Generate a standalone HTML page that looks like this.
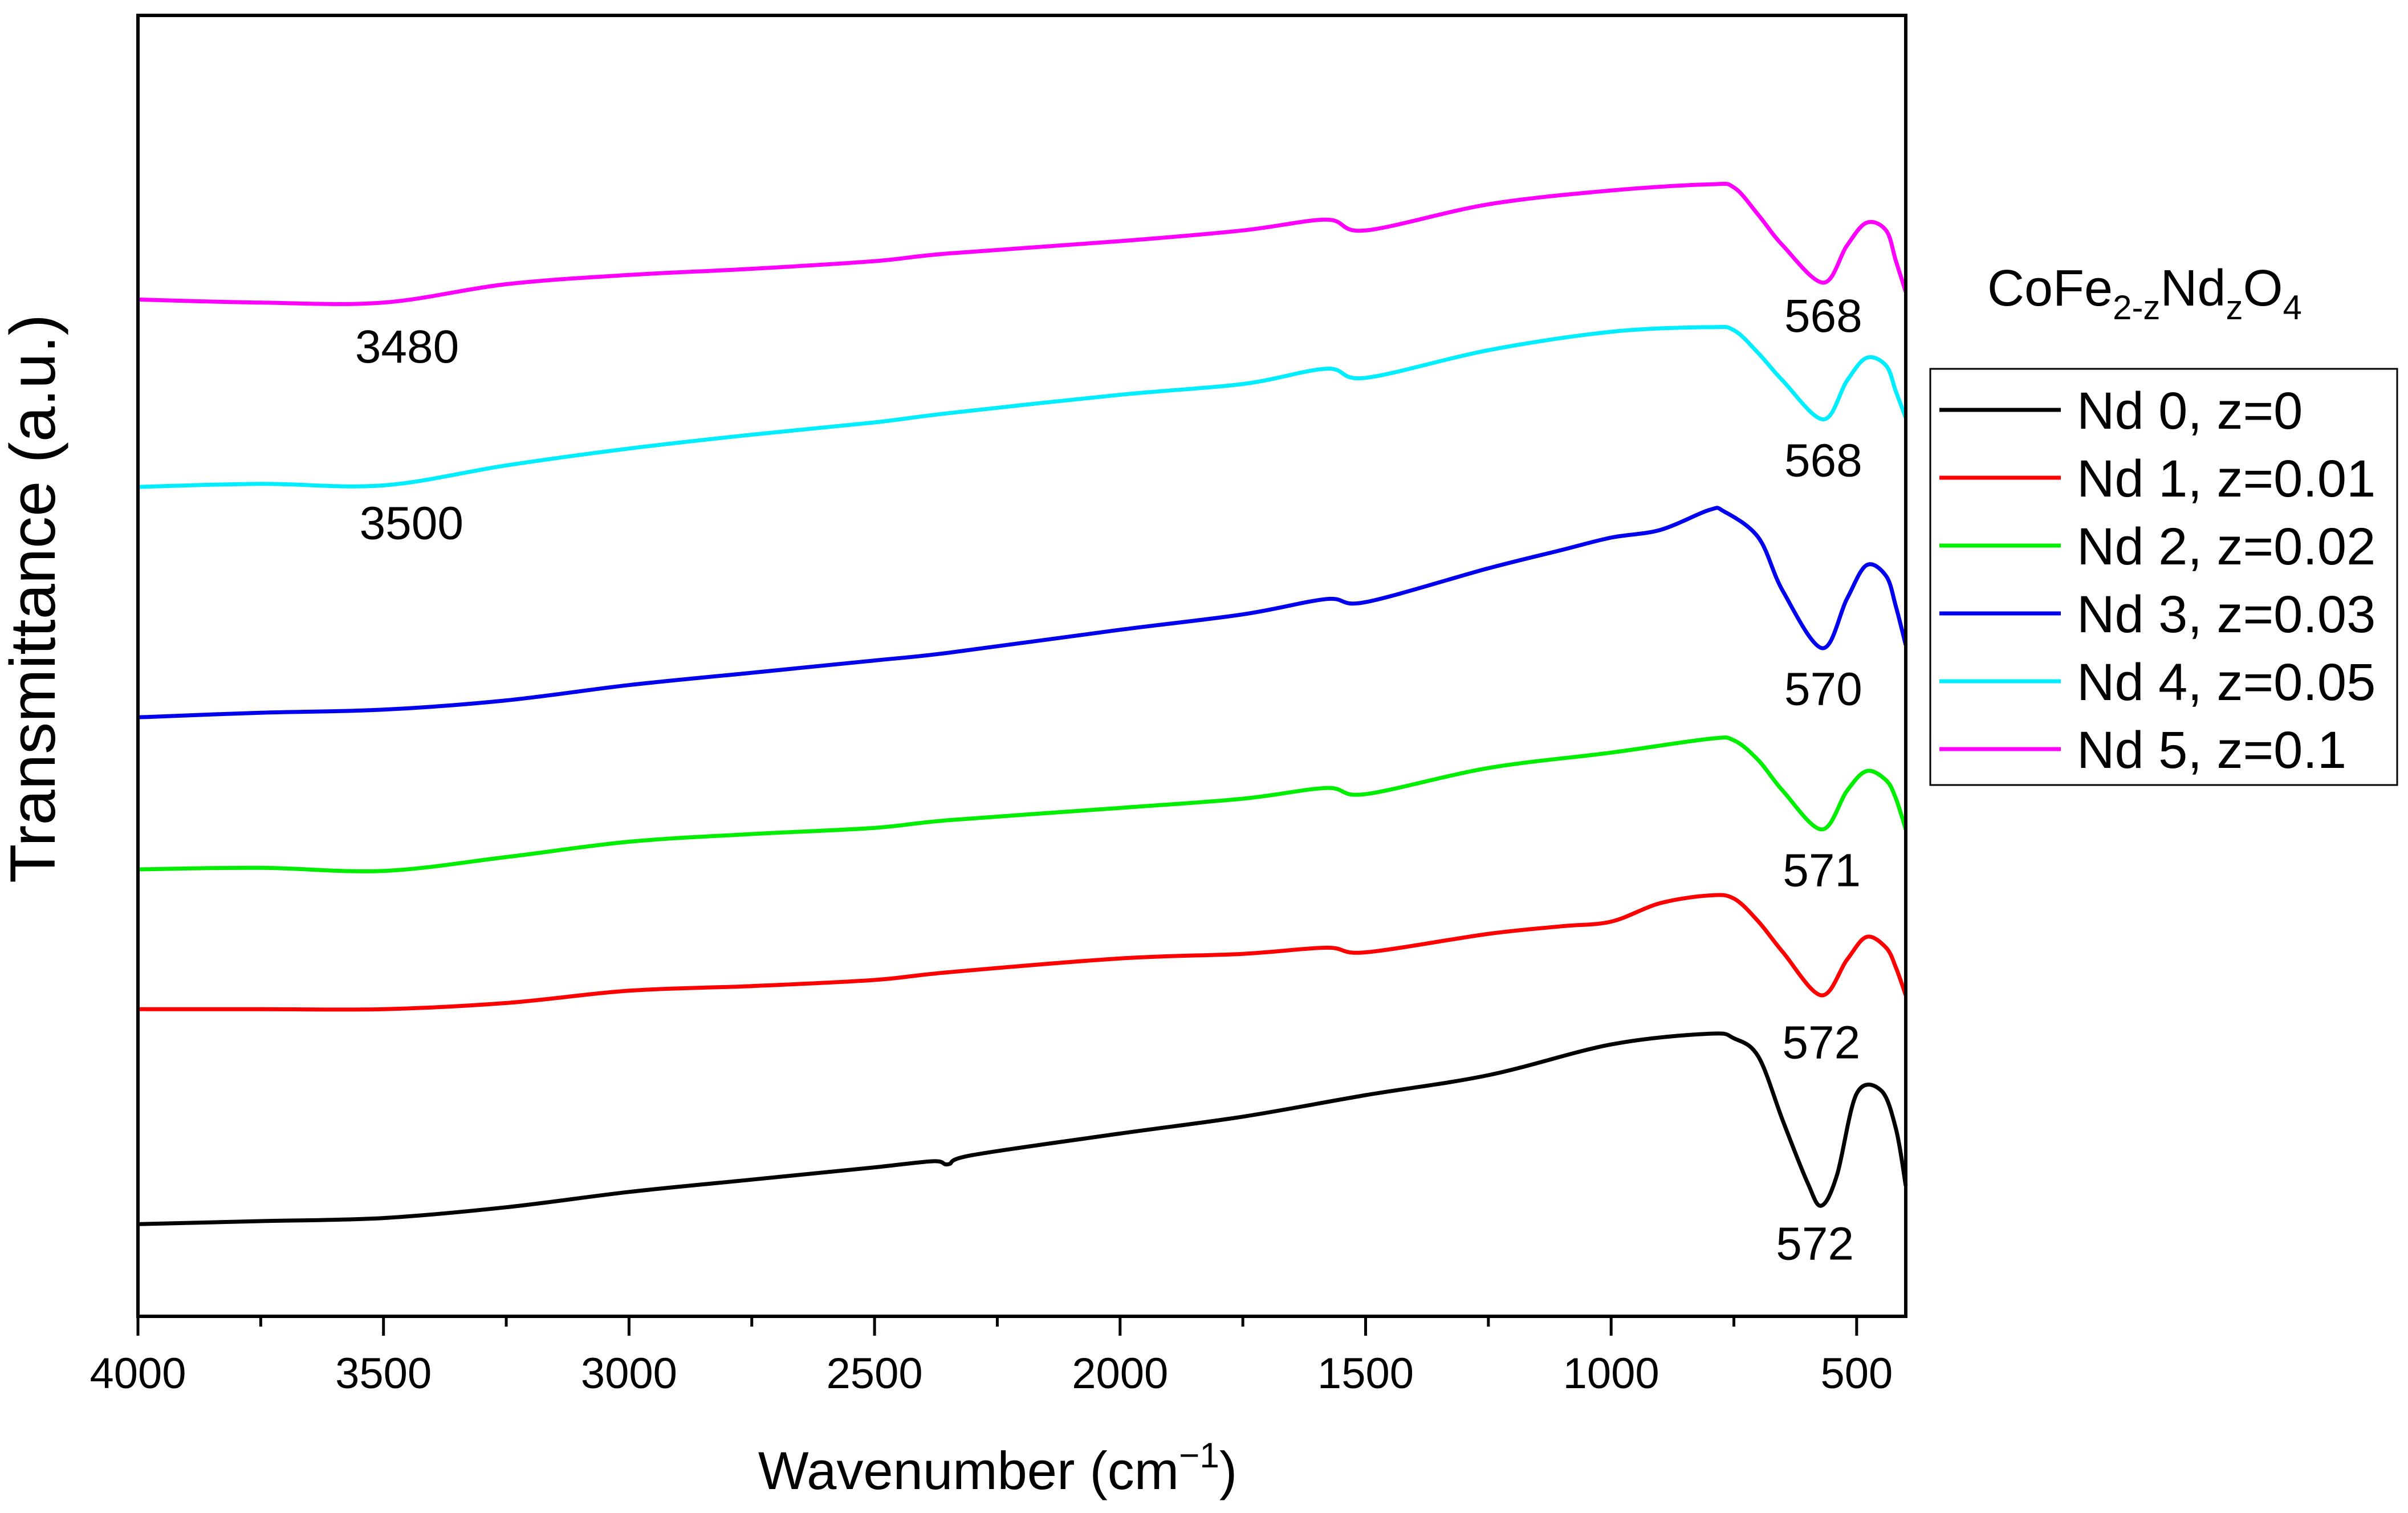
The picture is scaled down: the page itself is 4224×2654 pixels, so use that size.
<!DOCTYPE html>
<html><head><meta charset="utf-8"><style>
html,body{margin:0;padding:0;background:#fff;}
svg{display:block;font-family:"Liberation Sans",Arial,sans-serif;}
</style></head><body>
<svg id="chart" width="4224" height="2654" viewBox="0 0 4224 2654" xmlns="http://www.w3.org/2000/svg">
<g id="series"></g>
<rect x="242" y="27" width="3101" height="2282" fill="none" stroke="#000" stroke-width="6"/>
<g id="xticks"></g>
<text x="1750" y="2612" font-size="94" text-anchor="middle">Wavenumber (cm<tspan font-size="62" dy="-38">−1</tspan><tspan dy="38">)</tspan></text>
<text transform="translate(96,1050) rotate(-90)" font-size="112" text-anchor="middle">Transmittance (a.u.)</text>
<g id="peaks" font-size="82" text-anchor="middle"></g>
<text x="3486" y="536" font-size="90">CoFe<tspan font-size="60" dy="24">2-z</tspan><tspan dy="-24">Nd</tspan><tspan font-size="60" dy="24">z</tspan><tspan dy="-24">O</tspan><tspan font-size="60" dy="24">4</tspan></text>
<rect x="3386" y="647" width="819" height="730" fill="#fff" stroke="#000" stroke-width="3"/>
<g id="legend" font-size="92"></g>
</svg>
<script>
const NS="http://www.w3.org/2000/svg";
const seriesNames=["Nd 0, z=0","Nd 1, z=0.01","Nd 2, z=0.02","Nd 3, z=0.03","Nd 4, z=0.05","Nd 5, z=0.1"];
const seriesColors=["#000000","#ff0000","#00ee00","#0000ee","#00eeff","#ff00ff"];
const wnBlack=[4000,3750,3500,3250,3000,2750,2500,2380,2350,2300,2000,1750,1500,1250,1000,800,750,700,650,600,572,540,500,450,420,400];
const tBlack=[60,62,64,71,81,89,97,101,99,105,119,130,144,157,177,184,181,169,127,87,72,92,145,147,122,85];
const wnRed=[4000,3750,3500,3250,3000,2750,2500,2350,2000,1750,1580,1500,1250,1100,1000,900,800,750,700,650,572,520,480,440,420,400];
const tRed=[200,200,200,204,212,215,219,224,233,236,240,237,249,254,257,269,274,272,257,237,209,232,247,240,227,209];
const wnGreen=[4000,3750,3500,3250,3000,2750,2500,2350,2000,1750,1580,1500,1250,1000,800,750,700,650,571,520,480,440,420,400];
const tGreen=[291,292,290,299,309,314,318,323,331,337,344,340,357,367,376,375,362,342,317,342,355,349,337,317];
const wnBlue=[4000,3750,3500,3250,3000,2750,2500,2350,2000,1750,1580,1500,1250,1100,1000,900,800,770,700,650,570,520,480,440,420,400];
const tBlue=[390,393,395,401,411,419,427,432,447,457,467,465,487,499,507,512,525,524,507,472,435,467,489,482,462,437];
const wnCyan=[4000,3750,3500,3250,3000,2750,2500,2350,2000,1750,1580,1500,1250,1000,800,750,700,650,568,520,480,440,420,400];
const tCyan=[540,542,541,554,565,574,582,588,600,607,617,611,629,641,644,642,627,609,584,609,624,619,602,585];
const wnMag=[4000,3750,3500,3250,3000,2750,2500,2350,2000,1750,1580,1500,1250,1000,800,750,700,650,568,520,480,440,420,400];
const tMag=[662,660,660,672,678,682,687,692,700,707,714,707,724,733,737,735,717,697,673,697,712,707,687,667];
const xTicks=[4000,3500,3000,2500,2000,1500,1000,500];
const xMinor=[3750,3250,2750,2250,1750,1250,750];
const peakText=["572","572","571","570","568","568","3480","3500"];
const peakWn=[585,572,571,568,568,568,3452,3443];
const peakT=[37,168,280,398,547,641,621,506];

const X0=242,X1=3343,Y0=27,Y1=2309,WMAX=4000,WMIN=400,TMIN=0,TMAX=847;
function xs(w){return X0+(WMAX-w)/(WMAX-WMIN)*(X1-X0);}
function ys(t){return Y1-(t-TMIN)/(TMAX-TMIN)*(Y1-Y0);}

const allWn=[wnBlack,wnRed,wnGreen,wnBlue,wnCyan,wnMag];
const allT=[tBlack,tRed,tGreen,tBlue,tCyan,tMag];
const g=document.getElementById('series');
function pathFor(wn,t){
  const p=wn.map((w,i)=>[xs(w),ys(t[i])]);
  let d="M"+p[0][0].toFixed(1)+","+p[0][1].toFixed(1);
  for(let i=0;i<p.length-1;i++){
    const a=p[Math.max(0,i-1)],b=p[i],c=p[i+1],e=p[Math.min(p.length-1,i+2)];
    const c1=[b[0]+(c[0]-a[0])/6,b[1]+(c[1]-a[1])/6];
    const c2=[c[0]-(e[0]-b[0])/6,c[1]-(e[1]-b[1])/6];
    d+="C"+c1[0].toFixed(1)+","+c1[1].toFixed(1)+" "+c2[0].toFixed(1)+","+c2[1].toFixed(1)+" "+c[0].toFixed(1)+","+c[1].toFixed(1);
  }
  return d;
}
for(let s=0;s<6;s++){
  const path=document.createElementNS(NS,'path');
  path.setAttribute('d',pathFor(allWn[s],allT[s]));
  path.setAttribute('fill','none');
  path.setAttribute('stroke',seriesColors[s]);
  path.setAttribute('stroke-width','7');
  path.setAttribute('stroke-linejoin','round');
  
  
  g.appendChild(path);
}
const xt=document.getElementById('xticks');
xTicks.forEach(w=>{
  const l=document.createElementNS(NS,'line');
  l.setAttribute('x1',xs(w));l.setAttribute('x2',xs(w));
  l.setAttribute('y1',Y1);l.setAttribute('y2',Y1+34);
  l.setAttribute('stroke','#000');l.setAttribute('stroke-width','5');
  
  
  xt.appendChild(l);
  const tx=document.createElementNS(NS,'text');
  tx.setAttribute('x',xs(w));tx.setAttribute('y',Y1+126);
  tx.setAttribute('font-size','76');tx.setAttribute('text-anchor','middle');
  tx.textContent=w;
  
  
  xt.appendChild(tx);
});
xMinor.forEach(w=>{
  const l=document.createElementNS(NS,'line');
  l.setAttribute('x1',xs(w));l.setAttribute('x2',xs(w));
  l.setAttribute('y1',Y1);l.setAttribute('y2',Y1+18);
  l.setAttribute('stroke','#000');l.setAttribute('stroke-width','5');
  
  
  xt.appendChild(l);
});
const pk=document.getElementById('peaks');
peakText.forEach((s,i)=>{
  const tx=document.createElementNS(NS,'text');
  tx.setAttribute('x',xs(peakWn[i]));tx.setAttribute('y',ys(peakT[i]));
  tx.textContent=s;
  
  
  pk.appendChild(tx);
});
const lg=document.getElementById('legend');
seriesNames.forEach((n,i)=>{
  const y=719+i*119;
  const l=document.createElementNS(NS,'line');
  l.setAttribute('x1',3402);l.setAttribute('x2',3615);l.setAttribute('y1',y);l.setAttribute('y2',y);
  l.setAttribute('stroke',seriesColors[i]);l.setAttribute('stroke-width','7');
  
  
  lg.appendChild(l);
  const tx=document.createElementNS(NS,'text');
  tx.setAttribute('x',3643);tx.setAttribute('y',y+33);
  tx.textContent=n;
  
  
  lg.appendChild(tx);
});
</script>
</body></html>
